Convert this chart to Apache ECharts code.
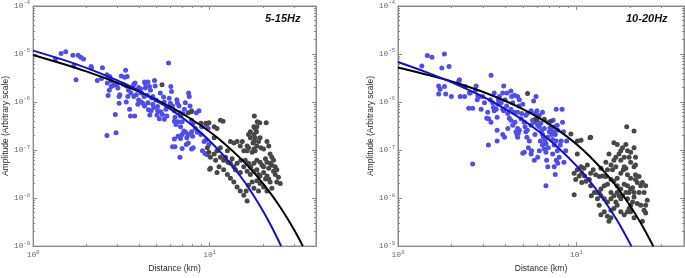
<!DOCTYPE html>
<html><head><meta charset="utf-8">
<script src="https://cdn.jsdelivr.net/npm/echarts@6/dist/echarts.min.js"></script>
<style>html,body{margin:0;padding:0;background:#fff}#c{width:685px;height:278px}</style>
</head><body><div id="c"></div>
<script>
// ---------- data ----------
const panelTitles = ['5-15Hz', '10-20Hz'];
const xName = 'Distance (km)';
const yName = 'Amplitude (Arbitrary scale)';
const xMajorTicks = [1, 10];
const yMajorTicks = [1e-9, 1e-8, 1e-7, 1e-6, 1e-5, 1e-4];
const xMinorTicks = [2, 3, 4, 5, 6, 7, 8, 9, 20, 30];
const yMinorMantissas = [2, 3, 4, 5, 6, 7, 8, 9];

// left panel (5-15 Hz) fitted curves
const leftBlackDist = [1, 1.5, 2, 3, 4, 5, 6, 8, 10, 12, 15, 17.5, 20, 22.5, 25, 27.5, 30, 32, 33.7];
const leftBlackAmp = [9.55e-6, 6.11e-6, 4.34e-6, 2.52e-6, 1.63e-6, 1.11e-6, 7.89e-7, 4.23e-7, 2.40e-7, 1.41e-7, 6.64e-8, 3.63e-8, 2.03e-8, 1.15e-8, 6.58e-9, 3.79e-9, 2.21e-9, 1.44e-9, 1.0e-9];
const leftBlueDist = [1, 1.5, 2, 3, 4, 5, 6, 8, 10, 12, 15, 17.5, 20, 22.5, 25.4];
const leftBlueAmp = [1.175e-5, 7.45e-6, 5.15e-6, 2.83e-6, 1.71e-6, 1.05e-6, 7.08e-7, 3.23e-7, 1.55e-7, 7.67e-8, 2.78e-8, 1.22e-8, 5.46e-9, 2.47e-9, 1.0e-9];

// right panel (10-20 Hz) fitted curves
const rightBlackDist = [1, 1.5, 2, 3, 4, 5, 6, 8, 10, 12, 15, 17.5, 20, 22.5, 25, 26.9];
const rightBlackAmp = [5.25e-6, 3.61e-6, 2.67e-6, 1.62e-6, 1.05e-6, 7.14e-7, 4.95e-7, 2.51e-7, 1.32e-7, 7.11e-8, 2.90e-8, 1.40e-8, 6.85e-9, 3.39e-9, 1.69e-9, 1.0e-9];
const rightBlueDist = [1, 1.5, 2, 3, 4, 5, 6, 8, 10, 12, 13.5, 15, 16.5, 18, 20.3];
const rightBlueAmp = [6.81e-6, 3.95e-6, 2.56e-6, 1.28e-6, 7.13e-7, 4.24e-7, 2.61e-7, 1.07e-7, 4.68e-8, 2.12e-8, 1.20e-8, 6.82e-9, 3.93e-9, 2.28e-9, 1.0e-9];

// observations [distance km, amplitude]
const leftBluePoints = [
[1.34,7.9e-6],[1.44,1.03e-5],[1.53,1.12e-5],[1.68,9.4e-6],[1.80,9.4e-6],[1.86,8.6e-6],[1.93,7.9e-6],[1.70,5.6e-6],[1.75,2.9e-6],[2.13,5.5e-6],
[2.14,5.1e-6],[2.47,5.2e-6],[2.31,2.8e-6],[2.44,3.1e-6],[2.62,3.7e-6],[2.66,3.4e-6],[2.63,2.5e-6],[2.72,3.4e-6],[2.77,2.75e-6],[2.70,1.75e-6],
[2.66,1.37e-6],[2.77,2.1e-6],[2.86,2.25e-6],[2.92,2.4e-6],[2.98,2.35e-6],[3.02,1.95e-6],[3.10,1.42e-6],[3.07,9.4e-7],[2.92,5.5e-7],[2.95,2.3e-7],
[2.62,2.0e-7],[3.34,4.6e-6],[3.30,3.3e-6],[3.16,3.5e-6],[3.41,3.4e-6],[3.23,2.35e-6],[3.37,2.15e-6],[3.47,1.75e-6],[3.58,1.55e-6],[3.44,1.3e-6],
[3.37,1.0e-6],[3.56,5.1e-7],[3.76,5.1e-7],[3.52,7.1e-7],[3.68,2.1e-6],[3.72,2.35e-6],[3.78,2.5e-6],[3.84,1.42e-6],[3.96,2.0e-6],[4.06,1.9e-6],
[4.10,1.55e-6],[3.96,1.1e-6],[4.10,1.0e-6],[4.28,2.6e-6],[4.47,2.6e-6],[4.56,2.1e-6],[4.43,1.38e-6],[4.32,1.95e-6],[4.25,1.3e-6],[4.19,9.3e-7],
[4.28,8.3e-7],[4.47,9.7e-7],[4.62,1.75e-6],[4.70,1.22e-6],[4.76,1.3e-6],[4.76,9.0e-7],[4.82,7.7e-7],[4.50,6.9e-7],[4.66,6.6e-7],[4.58,5.4e-7],
[4.91,2.15e-6],[4.97,1.1e-6],[5.07,8.1e-7],[5.07,6.6e-7],[5.03,5.4e-7],[5.29,6.3e-7],[5.18,4.5e-7],[5.40,5.5e-7],[5.53,4.4e-7],[5.25,1.55e-6],
[5.48,1.27e-6],[5.65,7.1e-7],[5.72,5.1e-7],[5.85,6.5e-6],[5.90,1.2e-6],[6.02,2.1e-6],[6.08,1.65e-6],[5.98,9.4e-7],[6.16,8.3e-7],[6.31,6.6e-7],
[6.36,4.8e-7],[6.31,4.0e-7],[6.44,3.4e-7],[6.52,1.12e-6],[6.57,9.4e-7],[6.70,8.3e-7],[6.78,6.0e-7],[6.84,5.1e-7],[6.62,3.9e-7],[6.84,3.05e-7],
[6.98,3.9e-7],[7.06,5.7e-7],[7.19,7.1e-7],[7.28,9.7e-7],[7.14,2.5e-7],[6.98,2.1e-7],[6.84,1.75e-7],[6.62,1.95e-7],[6.31,1.7e-7],[6.16,1.17e-7],
[6.36,1.17e-7],[6.78,7.1e-8],[6.98,1.08e-7],[7.37,1.3e-7],[7.42,1.8e-7],[7.56,2.1e-7],[7.59,1.55e-6],[7.66,1.3e-6],[7.74,8.3e-7],[7.90,6.6e-7],
[7.90,4.2e-7],[8.07,3.6e-7],[8.4,6.0e-7],[8.7,6.6e-7],[8.3,2.8e-7],[8.5,2.35e-7],[8.0,1.95e-7],[7.56,1.4e-7],[8.07,1.12e-7],[7.90,2.4e-7],
[8.91,2.1e-7],[9.3,1.5e-7],[9.0,3.05e-7],[7.90,1.05e-7],[7.31,2.35e-7],[5.53,1.0e-6],[4.87,2.8e-6],[4.32,2.4e-6],[3.72,1.3e-6],[3.92,9.0e-7],
[3.07,1.3e-6],[9.1,9.7e-8],[9.4,8.5e-8],[9.6,3.3e-7],[9.8,2.8e-7],[9.5,1.6e-7],[9.9,1.3e-7],[9.7,8.0e-8]
];
const leftGrayPoints = [
[5.37,2.3e-6],[7.56,6.0e-7],[7.87,6.3e-7],[8.91,3.6e-7],[9.5,3.6e-7],[9.9,3.7e-7],[10.6,3.05e-7],[11.5,4.2e-7],[11.9,4.0e-7],[11.0,2.8e-7],
[10.6,1.8e-7],[9.7,1.12e-7],[9.9,9.0e-8],[10.1,7.1e-8],[10.6,8.3e-8],[11.0,9.7e-8],[11.5,1.12e-7],[10.8,6.1e-8],[11.5,7.1e-8],[12.0,6.1e-8],
[12.6,9.7e-8],[13.1,1.5e-7],[13.7,1.4e-7],[14.3,1.5e-7],[14.9,1.22e-7],[15.6,9.7e-8],[15.3,1.5e-7],[16.3,1.22e-7],[16.6,2.1e-7],[17.0,2.4e-7],
[17.8,3.05e-7],[18.1,2.8e-7],[18.5,3.05e-7],[17.9,5.1e-7],[18.6,3.9e-7],[19.2,3.7e-7],[20.9,3.7e-7],[17.8,2.1e-7],[18.4,2.4e-7],[18.9,1.5e-7],
[19.3,1.8e-7],[18.5,1.22e-7],[17.8,1.05e-7],[17.4,9.0e-8],[18.1,9.7e-8],[19.5,1.12e-7],[20.2,1.05e-7],[21.1,1.5e-7],[21.6,1.22e-7],[22.0,8.3e-8],
[22.5,7.1e-8],[23.0,6.1e-8],[22.0,5.3e-8],[21.1,5.6e-8],[20.7,6.6e-8],[20.2,4.5e-8],[19.8,4.8e-8],[19.3,5.6e-8],[18.5,6.1e-8],[17.8,5.3e-8],
[17.1,4.5e-8],[16.6,5.3e-8],[15.9,6.1e-8],[15.0,6.1e-8],[14.3,5.3e-8],[13.7,4.5e-8],[13.1,5.3e-8],[12.7,5.6e-8],[12.3,7.1e-8],[13.4,6.6e-8],
[14.0,3.9e-8],[14.9,3.4e-8],[16.3,3.6e-8],[17.0,3.1e-8],[17.8,3.6e-8],[18.5,3.9e-8],[18.9,3.1e-8],[19.3,2.9e-8],[20.2,3.4e-8],[21.1,2.9e-8],
[21.6,2.5e-8],[22.0,2.15e-8],[23.0,3.6e-8],[23.5,3.1e-8],[24.0,3.9e-8],[24.5,2.7e-8],[25.1,2.0e-8],[23.5,4.5e-8],[22.5,1.6e-8],[21.1,1.4e-8],
[20.2,1.7e-8],[19.3,2.0e-8],[18.5,2.3e-8],[17.4,2.15e-8],[16.6,1.85e-8],[16.1,1.4e-8],[15.6,1.15e-8],[16.3,8.7e-9],[14.9,1.4e-8],[14.3,1.7e-8],
[13.7,2.15e-8],[13.1,2.6e-8],[12.6,3.1e-8],[12.0,3.9e-8],[11.3,4.5e-8],[11.0,3.4e-8],[10.1,4.2e-8],[10.0,4.0e-8],[17.8,1.6e-8],[18.9,1.4e-8],
[20.7,2.5e-8],[21.6,4.2e-8],[22.5,4.8e-8],[24.0,2.15e-8],[17.6,1.4e-7],[16.6,1.12e-7],[17.8,1.5e-7],[17.0,1.8e-7],[18.1,1.8e-7],[16.3,9.7e-8],
[15.6,4.5e-8]
];
const rightBluePoints = [
[1.36,5.6e-6],[1.46,9.3e-6],[1.55,8.6e-6],[1.82,1.0e-5],[1.76,5.1e-6],[1.93,5.5e-6],[1.69,2.15e-6],[1.69,1.47e-6],[1.72,1.85e-6],[1.82,2.1e-6],
[1.85,1.47e-6],[2.21,2.9e-6],[2.19,2.75e-6],[2.51,1.55e-6],[2.49,7.4e-7],[2.74,2.15e-6],[2.72,1.75e-6],[2.78,1.12e-6],[2.80,1.35e-6],[2.86,1.3e-6],
[2.92,7.1e-7],[2.98,1.3e-6],[3.05,9.7e-7],[3.14,4.6e-7],[3.18,6.1e-7],[3.22,4.5e-7],[3.21,1.27e-7],[3.32,3.6e-6],[3.39,9.7e-7],[3.42,7.7e-7],
[3.46,6.6e-7],[3.55,7.1e-7],[3.59,4.8e-7],[3.59,2.6e-7],[3.62,9.0e-7],[3.70,1.3e-6],[3.78,9.7e-7],[3.86,7.1e-7],[3.91,6.6e-7],[3.86,1.55e-6],
[3.91,2.15e-6],[3.98,1.12e-6],[4.06,8.3e-7],[4.12,5.8e-7],[4.20,4.6e-7],[4.29,7.1e-7],[4.33,1.3e-6],[4.39,9.7e-7],[4.49,6.1e-7],[4.52,3.8e-7],
[4.58,2.4e-7],[4.64,2.1e-7],[4.68,2.8e-7],[4.72,2.25e-7],[4.76,8.3e-7],[4.68,1.3e-6],[4.78,1.12e-6],[5.0,9.0e-7],[4.93,5.8e-7],[5.1,3.8e-7],
[5.15,3.05e-7],[5.2,2.4e-7],[5.27,1.85e-7],[5.3,2.6e-7],[5.44,1.55e-7],[5.56,3.3e-7],[5.6,9.7e-8],[5.67,4.2e-7],[5.8,3.8e-7],[5.85,5.8e-7],
[5.93,1.3e-6],[6.0,6.6e-7],[6.06,3.3e-7],[6.19,3.05e-7],[6.31,3.6e-7],[6.37,2.5e-7],[6.45,2.1e-7],[6.54,1.85e-7],[6.6,2.8e-7],[6.65,1.55e-7],
[6.74,1.35e-7],[6.6,1.05e-7],[6.74,9.0e-8],[6.8,6.1e-8],[6.9,4.5e-8],[6.95,1.12e-7],[7.04,2.4e-7],[7.1,2.9e-7],[7.2,2.6e-7],[7.25,2.1e-7],
[7.35,1.65e-7],[7.45,2.4e-7],[7.5,3.05e-7],[7.6,2.1e-7],[7.7,1.55e-7],[7.8,3.3e-7],[7.85,2.6e-7],[7.5,1.27e-7],[7.35,8.3e-8],[7.5,4.5e-8],
[7.6,3.1e-8],[7.7,6.1e-8],[7.8,9.7e-8],[7.85,5.3e-8],[8.0,7.1e-8],[8.1,1.27e-7],[8.2,1.55e-7],[8.35,3.8e-7],[8.45,2.4e-7],[8.3,7.1e-7],
[7.7,7.1e-7],[7.4,4.2e-7],[8.5,5.6e-8],[8.8,1.55e-7],[8.7,9.7e-8],[6.74,1.8e-8],[6.45,1.27e-7],[6.19,9.7e-8],[6.06,7.1e-8],[5.8,6.1e-8],
[5.56,8.3e-8],[5.37,1.12e-7],[5.1,9.0e-8],[5.0,8.6e-8],[4.78,2.6e-7],[4.39,3.3e-7],[4.12,2.8e-7],[3.86,2.1e-7],[3.59,1.55e-7],[2.62,7.4e-7],
[2.54,1.55e-6],[2.36,1.3e-6],[2.23,1.3e-6],[1.99,1.3e-6],[2.38,2.1e-6],[3.29,1.12e-6],[3.46,1.55e-6],[3.65,1.12e-6],[4.08,1.55e-6],[4.29,1.7e-6],
[4.49,1.38e-6],[4.68,6.1e-7],[5.3,5.8e-7],[5.56,6.6e-7],[5.85,2.1e-7],[6.27,1.55e-7],[6.9,1.85e-7],[6.95,3.8e-7],[6.19,5.3e-7],[6.45,6.1e-7],
[5.75,1.05e-6],[5.2,5.3e-7],[4.89,4.5e-7],[4.29,4.2e-7],[4.68,1.85e-7],[3.95,1.85e-7],[3.32,3.8e-7],[2.62,5.1e-8]
];
const rightGrayPoints = [
[5.32,1.5e-6],[5.93,4.6e-7],[6.0,4.2e-7],[6.6,4.4e-7],[7.19,4.0e-7],[9.3,2.15e-7],[10.1,1.55e-7],[10.6,1.6e-7],[11.9,1.8e-7],[12.0,1.85e-7],
[10.1,8.3e-8],[10.6,4.5e-8],[11.0,4.2e-8],[11.5,4.9e-8],[12.0,3.3e-8],[12.4,3.9e-8],[12.8,3.05e-8],[13.4,2.8e-8],[14.0,2.9e-8],[14.6,2.8e-8],
[14.9,3.9e-8],[15.6,4.9e-8],[16.2,6.1e-8],[16.6,7.1e-8],[17.3,8.3e-8],[17.7,9.7e-8],[18.1,1.12e-7],[16.9,1.3e-7],[16.2,1.42e-7],[19.1,3.05e-7],
[21.0,2.5e-7],[18.9,1.3e-7],[19.3,9.7e-8],[19.7,7.1e-8],[20.1,5.6e-8],[21.0,4.5e-8],[21.4,4.9e-8],[18.9,4.2e-8],[18.3,3.9e-8],[17.7,3.3e-8],
[16.9,2.6e-8],[16.2,2.25e-8],[15.6,2.45e-8],[14.9,1.95e-8],[14.3,1.8e-8],[13.7,1.55e-8],[13.1,1.3e-8],[13.4,7.1e-9],[13.7,4.5e-9],[14.3,5.2e-9],
[15.2,3.3e-9],[15.6,3.9e-9],[16.2,6.1e-9],[16.9,7.1e-9],[17.7,5.2e-9],[18.5,4.5e-9],[19.3,5.2e-9],[19.7,6.1e-9],[20.1,7.1e-9],[20.6,8.3e-9],
[21.0,1.05e-8],[21.9,7.7e-9],[22.9,7.1e-9],[23.9,5.6e-9],[24.4,7.1e-9],[24.9,9.0e-9],[23.9,1.3e-8],[22.9,1.8e-8],[21.9,2.1e-8],[21.4,2.45e-8],
[22.4,2.8e-8],[23.4,2.1e-8],[24.4,1.8e-8],[22.4,1.3e-8],[21.0,1.3e-8],[20.1,1.55e-8],[19.3,1.8e-8],[18.5,1.95e-8],[17.7,1.55e-8],[16.9,1.3e-8],
[16.2,1.12e-8],[15.6,9.7e-9],[14.9,8.3e-9],[14.3,9.7e-9],[13.7,1.12e-8],[13.1,9.7e-9],[12.6,1.3e-8],[12.0,1.8e-8],[11.8,2.45e-8],[11.3,2.25e-8],
[10.7,2.1e-8],[10.35,2.9e-8],[9.9,2.45e-8],[9.7,3.3e-8],[10.1,3.9e-8],[10.7,3.3e-8],[11.1,2.9e-8],[9.7,1.17e-8],[12.1,1.12e-8],[13.4,1.3e-8],
[15.6,1.3e-8],[16.9,1.8e-8],[19.3,9.7e-9],[20.1,5.2e-9],[21.0,3.9e-9],[23.4,3.3e-9],[24.4,4.9e-9],[17.7,9.7e-9],[18.1,1.12e-8],[18.9,1.3e-8],
[19.7,1.3e-8],[20.6,1.65e-8],[21.4,3.05e-8],[20.1,2.6e-8],[19.3,3.05e-8],[18.5,4.5e-8],[17.7,6.1e-8],[16.6,4.5e-8],[15.9,3.9e-8],[17.3,1.12e-8],
[16.6,8.3e-9],[15.6,5.6e-9],[14.9,4.2e-9],[21.0,1.12e-7],[20.1,9.0e-8],[21.4,7.1e-8],[18.5,7.1e-8],[15.2,8.3e-8],[14.6,5.6e-8],[13.7,4.2e-8]
];

// ---------- chart ----------
const yMinorTicks = [];
yMajorTicks.slice(0, -1).forEach(function (d) { yMinorMantissas.forEach(function (m) { yMinorTicks.push(m * d); }); });

const AX = '#8a8a8a';
const lblColor = '#6a6a6a';
const rich = {
  b: { fontSize: 8, fontFamily: 'Liberation Mono', color: lblColor },
  s: { fontSize: 5.5, fontFamily: 'Liberation Mono', color: lblColor, padding: [0, 0, 6, 0] }
};
function supFmt(v) { return '{b|10}{s|' + Math.round(Math.log10(v)) + '}'; }
const nameStyle = { fontSize: 8.5, color: '#2a2a2a', fontFamily: 'Liberation Sans' };

function mkX(g, pos, ticks, len, major, withName) {
  return {
    type: 'log', logBase: 10, gridIndex: g, min: 1, max: 40, position: pos,
    name: withName ? xName : '', nameLocation: 'middle', nameGap: 12, nameTextStyle: nameStyle,
    axisLine: { show: major, onZero: false, lineStyle: { color: AX, width: 1 } },
    axisTick: { show: true, inside: true, length: len, customValues: ticks, lineStyle: { color: AX, width: 1 } },
    axisLabel: withName ? { show: true, customValues: xMajorTicks, margin: 3, formatter: supFmt, rich: rich } : { show: false },
    splitLine: { show: false }, minorTick: { show: false }
  };
}
function mkY(g, pos, ticks, len, major, withName) {
  return {
    type: 'log', logBase: 10, gridIndex: g, min: 1e-9, max: 1e-4, position: pos,
    name: withName ? yName : '', nameLocation: 'middle', nameGap: 21, nameRotate: 90, nameTextStyle: nameStyle,
    axisLine: { show: major, onZero: false, lineStyle: { color: AX, width: 1 } },
    axisTick: { show: true, inside: true, length: len, customValues: ticks, lineStyle: { color: AX, width: 1 } },
    axisLabel: withName ? { show: true, customValues: yMajorTicks, margin: 3, formatter: supFmt, rich: rich } : { show: false },
    splitLine: { show: false }, minorTick: { show: false }
  };
}
function axesFor(g, mk, p1, p2) {
  const major = mk === mkX ? xMajorTicks : yMajorTicks;
  const minor = mk === mkX ? xMinorTicks : yMinorTicks;
  return [
    mk(g, p1, major, 4, true, true),
    mk(g, p1, minor, 2, false, false),
    mk(g, p2, major, 4, true, false),
    mk(g, p2, minor, 2, false, false)
  ];
}
const xAxes = axesFor(0, mkX, 'bottom', 'top').concat(axesFor(1, mkX, 'bottom', 'top'));
const yAxes = axesFor(0, mkY, 'left', 'right').concat(axesFor(1, mkY, 'left', 'right'));

function zip(a, b) { return a.map(function (v, i) { return [v, b[i]]; }); }
const BLUE_PT = '#4f4fe8', GRAY_PT = '#474747', BLUE_LN = '#1212c2';
function panelSeries(axIdx, blues, grays, bd, ba, kd, ka) {
  return [
    { type: 'scatter', xAxisIndex: axIdx, yAxisIndex: axIdx, data: blues, symbolSize: 5, itemStyle: { color: BLUE_PT, opacity: 1 }, z: 2 },
    { type: 'scatter', xAxisIndex: axIdx, yAxisIndex: axIdx, data: grays, symbolSize: 5, itemStyle: { color: GRAY_PT, opacity: 1 }, z: 2 },
    { type: 'line', xAxisIndex: axIdx, yAxisIndex: axIdx, data: zip(kd, ka), smooth: 0.3, showSymbol: false, lineStyle: { color: '#000', width: 2 }, z: 3 },
    { type: 'line', xAxisIndex: axIdx, yAxisIndex: axIdx, data: zip(bd, ba), smooth: 0.3, showSymbol: false, lineStyle: { color: BLUE_LN, width: 2 }, z: 4 }
  ];
}

const chart = echarts.init(document.getElementById('c'), null, { renderer: 'canvas' });
chart.setOption({
  animation: false,
  backgroundColor: '#fff',
  title: [
    { text: panelTitles[0], left: 265, top: 13, padding: 0, textStyle: { fontSize: 11, fontWeight: 'bold', fontStyle: 'italic', fontFamily: 'Liberation Sans', color: '#111' } },
    { text: panelTitles[1], left: 626, top: 13, padding: 0, textStyle: { fontSize: 11, fontWeight: 'bold', fontStyle: 'italic', fontFamily: 'Liberation Sans', color: '#111' } }
  ],
  grid: [
    { left: 31, top: 6, width: 285, height: 250, show: true, borderColor: AX, borderWidth: 1, containLabel: false },
    { left: 398, top: 6, width: 286, height: 250, show: true, borderColor: AX, borderWidth: 1, containLabel: false }
  ],
  xAxis: xAxes,
  yAxis: yAxes,
  series: panelSeries(0, leftBluePoints, leftGrayPoints, leftBlueDist, leftBlueAmp, leftBlackDist, leftBlackAmp)
    .concat(panelSeries(4, rightBluePoints, rightGrayPoints, rightBlueDist, rightBlueAmp, rightBlackDist, rightBlackAmp))
});
</script></body></html>
